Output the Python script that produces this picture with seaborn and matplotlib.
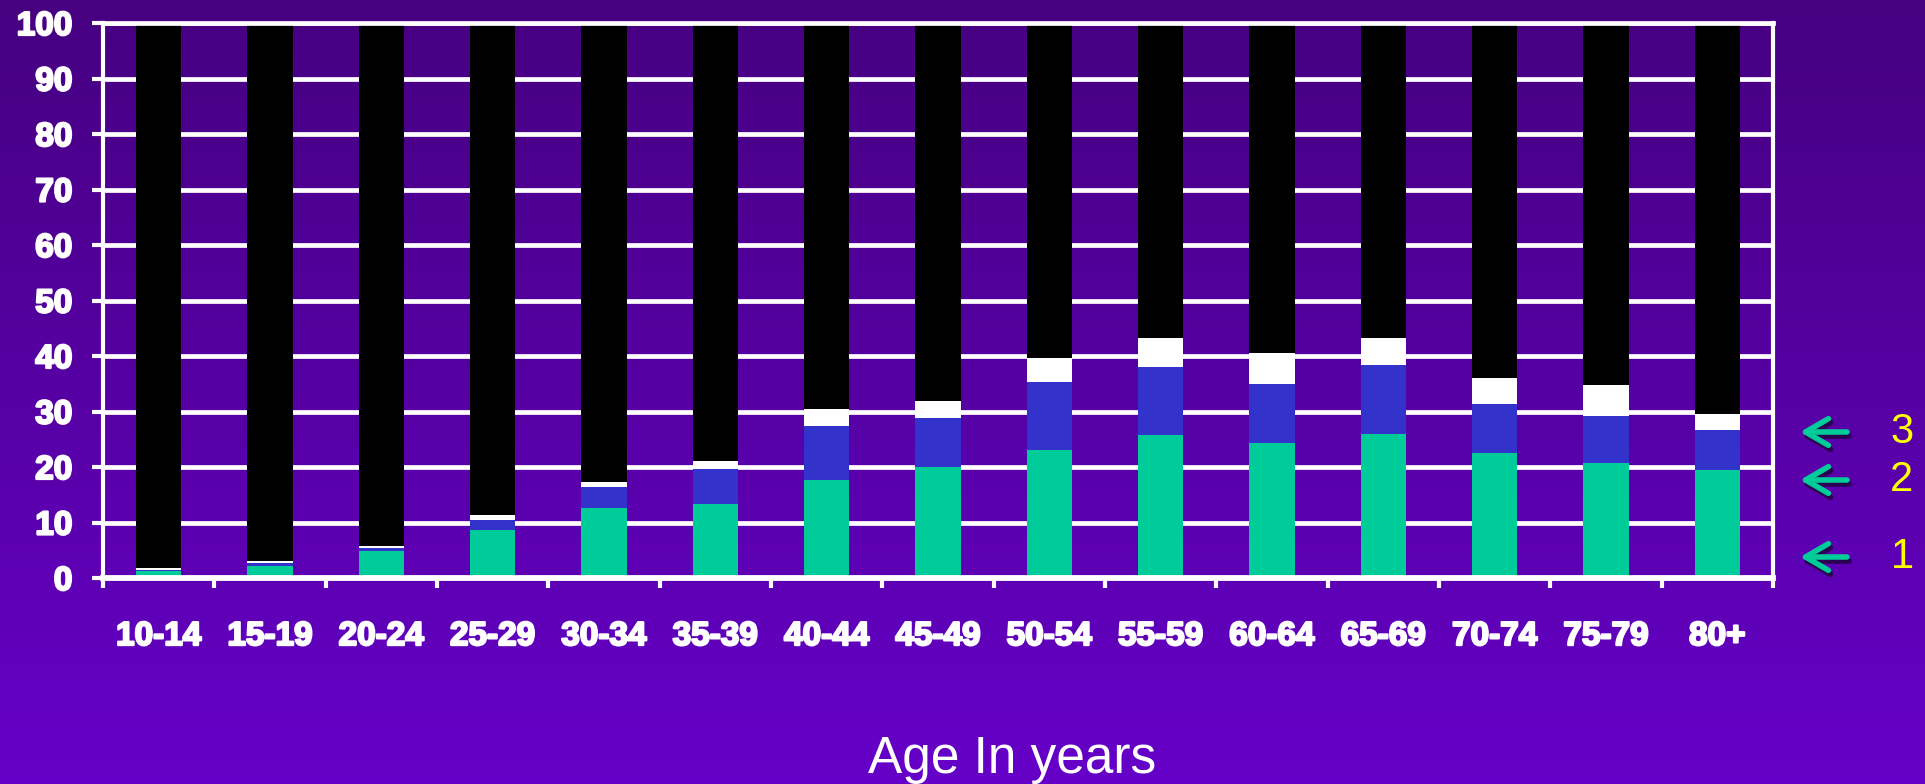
import numpy as np
import matplotlib
matplotlib.use("Agg")
import matplotlib.pyplot as plt
import matplotlib.patheffects as pe
import seaborn as sns

# ---- data ----
ages = ["10-14", "15-19", "20-24", "25-29", "30-34", "35-39", "40-44", "45-49",
        "50-54", "55-59", "60-64", "65-69", "70-74", "75-79", "80+"]
grp1 = [1.2, 2.2, 4.8, 8.7, 12.7, 13.4, 17.6, 20.0, 23.1, 25.7, 24.3, 25.9, 22.5, 20.8, 19.5]
grp2 = [0.3, 0.45, 0.6, 1.7, 3.7, 6.2, 9.7, 8.9, 12.3, 12.3, 10.6, 12.5, 8.8, 8.4, 7.1]
grp3 = [0.3, 0.35, 0.3, 0.9, 0.9, 1.4, 3.1, 3.0, 4.2, 5.3, 5.7, 4.9, 4.8, 5.5, 2.9]
total = [100] * len(ages)
yticks = list(range(0, 101, 10))
side_labels = ["3", "2", "1"]

plt.rcParams['font.family'] = ['Liberation Sans', 'DejaVu Sans']

W, H = 1925, 784
fig = plt.figure(figsize=(W / 100, H / 100), dpi=100)

# gradient background
bg = fig.add_axes([0, 0, 1, 1], zorder=-10)
top = np.array([70, 0, 128]) / 255
bot = np.array([102, 0, 200]) / 255
t = np.linspace(0, 1, 256)[:, None]
grad = top[None, :] * (1 - t) + bot[None, :] * t
bg.imshow(grad[:, None, :], aspect='auto', extent=[0, 1, 0, 1])
bg.set_axis_off()

ax = fig.add_axes([103 / W, 1 - 578 / H, (1773 - 103) / W, (578 - 23) / H])
ax.set_facecolor('none')

c1 = np.array(grp1)
c2 = c1 + np.array(grp2)
c3 = c2 + np.array(grp3)
layers = [(total, '#000000'), (c3, '#FFFFFF'), (c2, '#3333CC'), (c1, '#00CC99')]
for vals, col in layers:
    sns.barplot(x=ages, y=vals, color=col, width=0.41, saturation=1,
                linewidth=0, ax=ax, zorder=2)

ax.set_xlim(-0.5, len(ages) - 0.5)
ax.set_ylim(0, 100)
ax.set_yticks(yticks)
ax.set_yticklabels([str(v) for v in yticks])
ax.set_xticks(np.arange(-0.5, len(ages), 1.0))
ax.set_xticklabels([])
ax.set_xticks(np.arange(len(ages)), minor=True)
ax.set_xticklabels(ages, minor=True)
ax.set_xlabel("")
ax.set_ylabel("")

ax.set_axisbelow(True)
ax.yaxis.grid(True, color='white', linewidth=3.4)
ax.xaxis.grid(False)

for side in ['left', 'right', 'top', 'bottom']:
    ax.spines[side].set_visible(True)
    ax.spines[side].set_color('white')
ax.spines['left'].set_linewidth(3.0)
ax.spines['right'].set_linewidth(3.0)
ax.spines['top'].set_linewidth(3.4)
ax.spines['bottom'].set_linewidth(4.2)

ax.tick_params(axis='y', which='major', direction='out', length=8, width=3,
               color='white', labelcolor='white', labelsize=24, pad=14)
ax.tick_params(axis='x', which='major', direction='out', length=7, width=3,
               color='white')
ax.tick_params(axis='x', which='minor', length=0, labelcolor='white',
               labelsize=24, pad=31)
heavy = [pe.withStroke(linewidth=1.6, foreground='white')]
for lab in ax.get_yticklabels() + ax.get_xticklabels(minor=True):
    lab.set_fontweight('bold')
    lab.set_path_effects(heavy)

fig.text(1012 / W, 11 / H, "Age In years", ha='center', va='baseline',
         fontsize=37, color='white')

# side arrows and labels
arrow_y = [432, 480, 557]
for lab, yp in zip(side_labels, arrow_y):
    yy = H - yp
    for dx, dy, col in [(2, -4, '#2a0050'), (0, 0, '#00CC99')]:
        ax.annotate("", xy=(1800 + dx, yy + dy), xytext=(1847 + dx, yy + dy),
                    xycoords='figure pixels', textcoords='figure pixels',
                    arrowprops=dict(arrowstyle='->,head_length=0.55,head_width=0.32',
                                    color=col, lw=4.0, mutation_scale=30,
                                    shrinkA=0, shrinkB=0),
                    annotation_clip=False)
    fig.text(1902 / W, yy / H, lab, ha='center', va='center', fontsize=30,
             color='#FFFF00')

fig.savefig("out.png", dpi=100)
